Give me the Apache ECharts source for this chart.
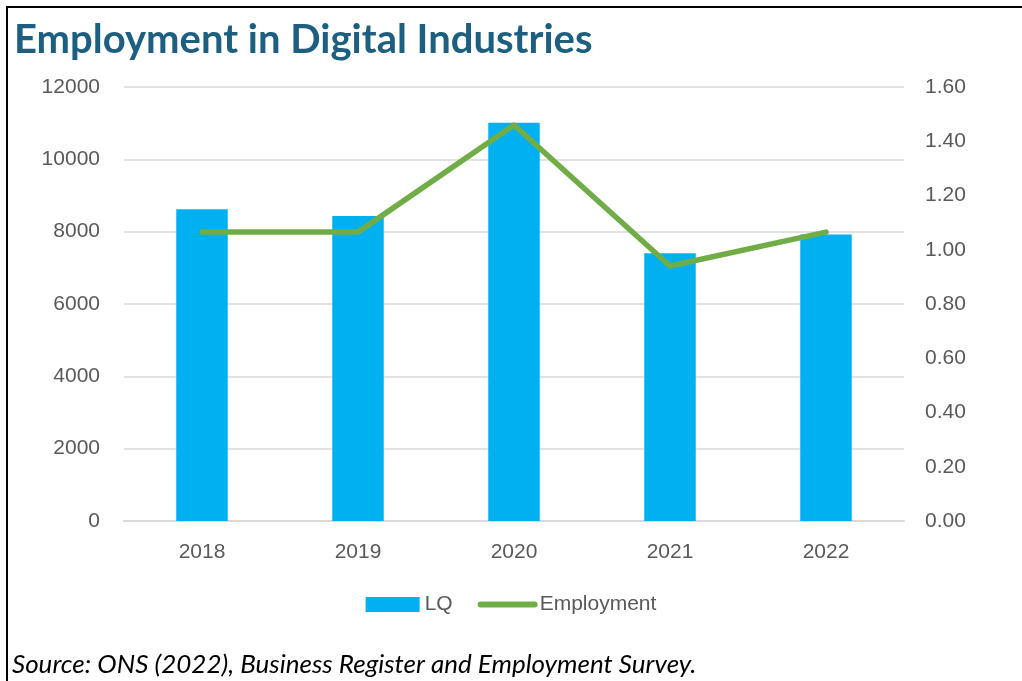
<!DOCTYPE html>
<html>
<head>
<meta charset="utf-8">
<script src="https://cdn.jsdelivr.net/npm/echarts@6/dist/echarts.min.js"></script>
<style>
  html, body { margin: 0; padding: 0; background: #fff; }
  #chart { width: 1022px; height: 681px; }
</style>
</head>
<body>
<div id="chart"></div>
<script>
// Years on the category axis
const years = ['2018', '2019', '2020', '2021', '2022'];
// Bar series (left axis)
const lqValues = [8620, 8430, 11010, 7400, 7920];
// Line series (right axis)
const employmentValues = [1.065, 1.065, 1.46, 0.94, 1.065];

const axisFont = { fontFamily: 'Liberation Sans', fontSize: 21, color: '#595959' };

const chart = echarts.init(document.getElementById('chart'));
chart.setOption({
  backgroundColor: '#fff',
  animation: false,
  title: {
    text: 'Employment in Digital Industries',
    left: 9,
    top: 15,
    textStyle: { fontFamily: 'Lato', fontWeight: 'bold', fontSize: 40, color: '#1d5f80' }
  },
  grid: { left: 124, right: 118, top: 87, bottom: 160 },
  legend: {
    bottom: 61,
    left: 'center',
    itemGap: 25,
    itemWidth: 54,
    itemHeight: 15,
    textStyle: { fontFamily: 'Liberation Sans', fontSize: 21, color: '#595959' },
    data: [
      { name: 'LQ', icon: 'rect' },
      {
        name: 'Employment',
        itemStyle: { color: 'rgba(0,0,0,0)', borderWidth: 0 },
        lineStyle: { width: 6, cap: 'round', color: '#70ad47' }
      }
    ]
  },
  xAxis: {
    type: 'category',
    data: years,
    axisLine: { lineStyle: { color: '#d9d9d9', width: 2 } },
    axisTick: { show: false },
    axisLabel: Object.assign({ margin: 21 }, axisFont)
  },
  yAxis: [
    {
      type: 'value',
      min: 0, max: 12000, interval: 2000,
      axisLine: { show: false },
      axisTick: { show: false },
      splitLine: { lineStyle: { color: '#d9d9d9', width: 1.5 } },
      axisLabel: Object.assign({ margin: 24, formatter: v => String(v) }, axisFont)
    },
    {
      type: 'value',
      min: 0, max: 1.6, interval: 0.2,
      axisLine: { show: false },
      axisTick: { show: false },
      splitLine: { show: false },
      axisLabel: Object.assign({ margin: 21, formatter: v => v.toFixed(2) }, axisFont)
    }
  ],
  series: [
    {
      name: 'LQ',
      type: 'bar',
      yAxisIndex: 0,
      data: lqValues,
      barWidth: '33%',
      itemStyle: { color: '#00b0f0' }
    },
    {
      name: 'Employment',
      type: 'line',
      yAxisIndex: 1,
      data: employmentValues,
      symbol: 'none',
      lineStyle: { color: '#70ad47', width: 5.5, cap: 'round', join: 'round' },
      itemStyle: { color: '#70ad47' }
    }
  ],
  graphic: [
    // frame lines along the top and left edges
    { type: 'line', shape: { x1: 6, y1: 7, x2: 1022, y2: 7 }, style: { stroke: '#000', lineWidth: 2 } },
    { type: 'line', shape: { x1: 7, y1: 6, x2: 7, y2: 681 }, style: { stroke: '#000', lineWidth: 2 } },
    {
      type: 'text',
      left: 12,
      top: 652,
      style: {
        text: 'Source: ONS (2022), Business Register and Employment Survey.',
        font: 'italic 26px Lato',
        fill: '#000'
      }
    }
  ]
});
</script>
</body>
</html>
